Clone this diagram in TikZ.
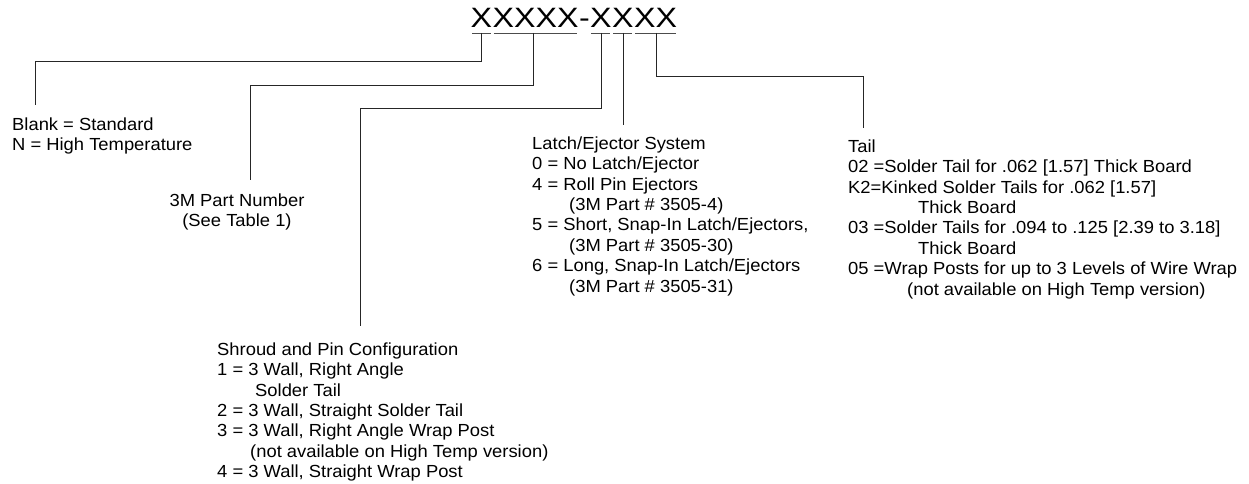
\documentclass[tikz,border=0pt]{standalone}
\usepackage{fontspec}
\setmainfont[FakeStretch=1.05]{Liberation Sans}
\newfontfamily\ttlfont{Liberation Sans}
\begin{document}
\begin{tikzpicture}[x=1pt,y=-1pt,
  txt/.style={inner sep=0pt, align=left, anchor=north west, font=\fontsize{17.5}{20.4}\selectfont},
  ttl/.style={inner sep=0pt, anchor=base west, xscale=1.15, font=\ttlfont\fontsize{28}{30}\selectfont},
  lead/.style={line width=0.9pt, black!85},
  uline/.style={line width=0.9pt, black!70, shorten <=1.5pt, shorten >=1.5pt}]
\useasboundingbox (0,0) rectangle (1249,484);

% title groups
\node[ttl] (g1) at (470.5,28) {X};
\node[ttl] (g2) at (g1.base east) {XXXX};
\node[ttl] (dash) at (g2.base east) {-};
\node[ttl] (g3) at (dash.base east) {X};
\node[ttl] (g4) at (g3.base east) {X};
\node[ttl] (g5) at (g4.base east) {XX};
\foreach \g in {g1,g2,g3,g4,g5}
  \draw[uline] ([yshift=-5pt]\g.base west) -- ([yshift=-5pt]\g.base east);

% text blocks
\node[txt] (blank) at (12,117.4) {Blank = Standard\\N = High Temperature};
\node[txt, align=center, anchor=north] (pn) at (237,193.4) {3M Part Number\\(See Table 1)};
\node[txt] (shroud) at (217,342.4) {Shroud and Pin Configuration\\
1 = 3 Wall, Right Angle\\
\hspace*{38pt}Solder Tail\\
2 = 3 Wall, Straight Solder Tail\\
3 = 3 Wall, Right Angle Wrap Post\\
\hspace*{33pt}(not available on High Temp version)\\
4 = 3 Wall, Straight Wrap Post};
\node[txt] (latch) at (532,136.4) {Latch/Ejector System\\
0 = No Latch/Ejector\\
4 = Roll Pin Ejectors\\
\hspace*{37pt}(3M Part \# 3505-4)\\
5 = Short, Snap-In Latch/Ejectors,\\
\hspace*{37pt}(3M Part \# 3505-30)\\
6 = Long, Snap-In Latch/Ejectors\\
\hspace*{37pt}(3M Part \# 3505-31)};
\node[txt] (tail) at (848,139.4) {Tail\\
02 =Solder Tail for .062 [1.57] Thick Board\\
K2=Kinked Solder Tails for .062 [1.57]\\
\hspace*{70pt}Thick Board\\
03 =Solder Tails for .094 to .125 [2.39 to 3.18]\\
\hspace*{70pt}Thick Board\\
05 =Wrap Posts for up to 3 Levels of Wire Wrap\\
\hspace*{59pt}(not available on High Temp version)};

% leader start / end points
\coordinate (u1) at (481,33);
\coordinate (u2) at (533,33);
\coordinate (u3) at (601,33);
\coordinate (u4) at (623,33);
\coordinate (u5) at (656,33);
\coordinate (e1) at (35,105);
\coordinate (e2) at (250,180);
\coordinate (e3) at (360,326);
\coordinate (e4) at (623,125);
\coordinate (e5) at (863,128);

\draw[lead] (u1) -- ++(0,28) -| (e1);
\draw[lead] (u2) -- ++(0,52.5) -| (e2);
\draw[lead] (u3) -- ++(0,75) -| (e3);
\draw[lead] (u4) -- (e4);
\draw[lead] (u5) -- ++(0,43.5) -| (e5);
\end{tikzpicture}
\end{document}
